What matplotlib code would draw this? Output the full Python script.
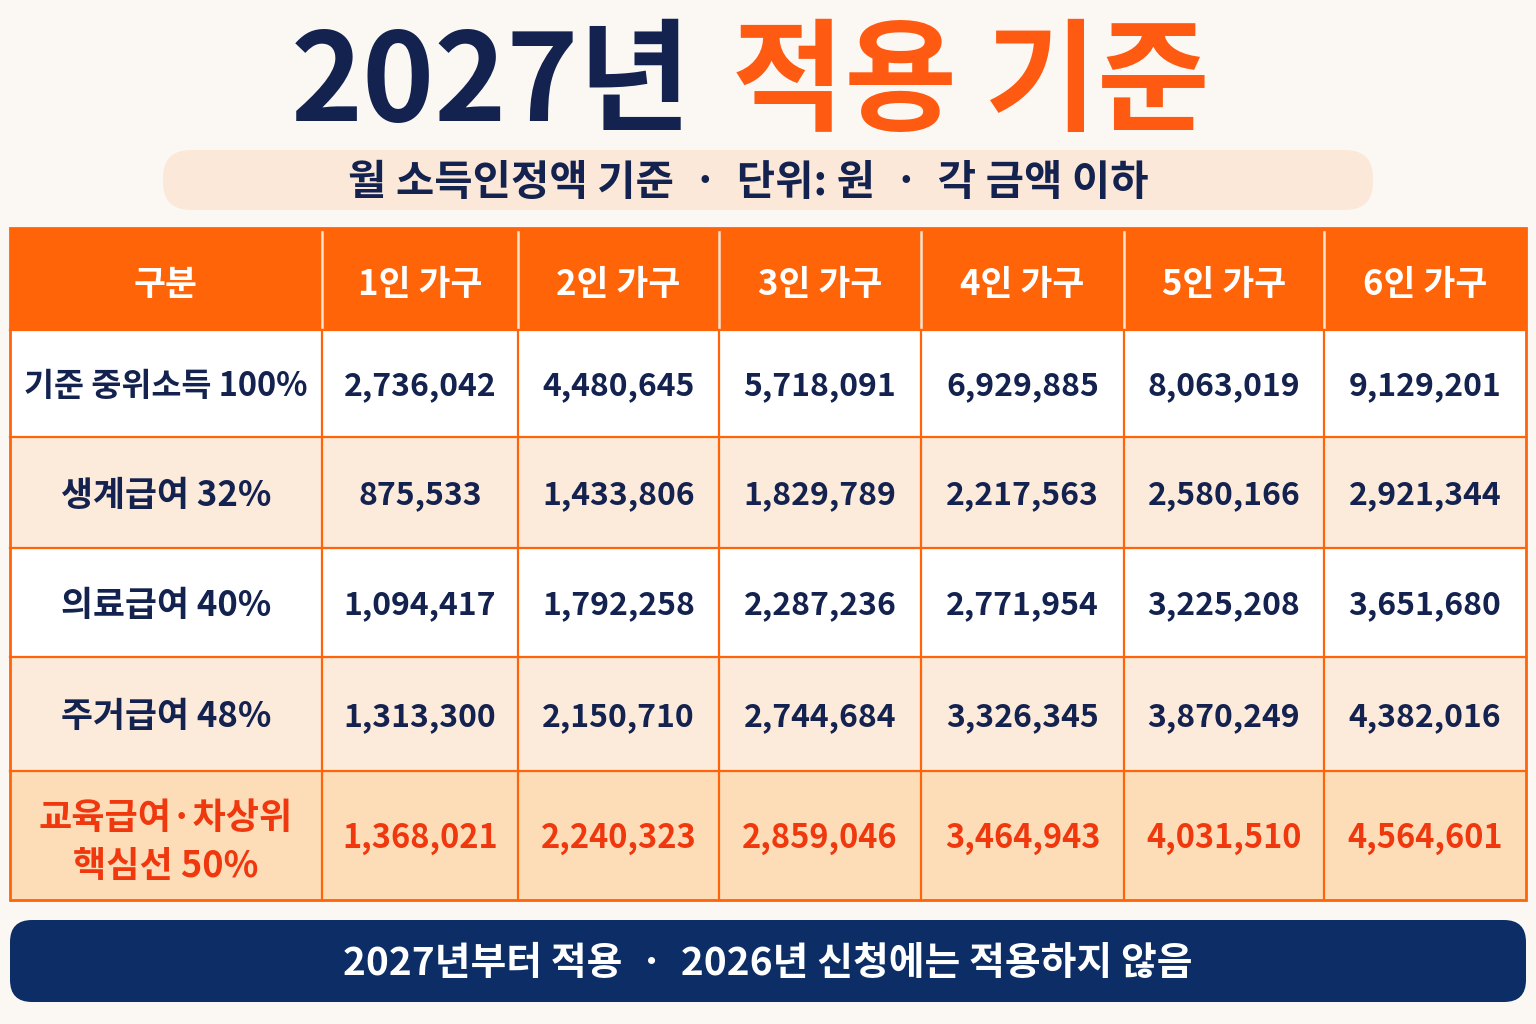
import matplotlib
matplotlib.use("Agg")
import matplotlib.pyplot as plt
from matplotlib.patches import Rectangle, FancyBboxPatch

plt.rcParams['font.family'] = ['Noto Sans CJK KR', 'DejaVu Sans']

# ---- data ----
title_year = "2027년"
title_rest = "적용 기준"
subtitle = "월 소득인정액 기준  ·  단위: 원  ·  각 금액 이하"
corner_label = "구분"
households = ["1인 가구", "2인 가구", "3인 가구", "4인 가구", "5인 가구", "6인 가구"]
row_labels = ["기준 중위소득 100%", "생계급여 32%", "의료급여 40%", "주거급여 48%", "교육급여·차상위\n핵심선 50%"]
median_100 = [2736042, 4480645, 5718091, 6929885, 8063019, 9129201]
living_32 = [875533, 1433806, 1829789, 2217563, 2580166, 2921344]
medical_40 = [1094417, 1792258, 2287236, 2771954, 3225208, 3651680]
housing_48 = [1313300, 2150710, 2744684, 3326345, 3870249, 4382016]
education_50 = [1368021, 2240323, 2859046, 3464943, 4031510, 4564601]
footer = "2027년부터 적용  ·  2026년 신청에는 적용하지 않음"

rows = [median_100, living_32, medical_40, housing_48, education_50]

# ---- style ----
BG = "#FBF8F3"
NAVY = "#13224F"
ORANGE = "#FF6408"
TITLE_ORANGE = "#FF5A12"
RED = "#F0380E"
PEACH = "#FCEADB"
PEACH_LAST = "#FDDDB8"
PILL = "#FBE8D8"
FOOTER_BG = "#0C2D66"
row_bg = ["white", PEACH, "white", PEACH, PEACH_LAST]
label_sizes = [23.5, 25, 25, 25, 26]

fig = plt.figure(figsize=(15.36, 10.24), dpi=100, facecolor=BG)
ax = fig.add_axes([0, 0, 1, 1])
ax.set_xlim(0, 1536)
ax.set_ylim(1024, 0)
ax.axis('off')
ax.set_facecolor(BG)

# title
t1 = ax.text(0, 0, title_year, fontsize=88, fontweight='black', color=NAVY,
             ha='left', va='center')
t2 = ax.text(0, 0, title_rest, fontsize=88, fontweight='black', color=TITLE_ORANGE,
             ha='left', va='center')
fig.canvas.draw()
r = fig.canvas.get_renderer()
w1 = t1.get_window_extent(r).width
w2 = t2.get_window_extent(r).width
gap = 40
total = w1 + gap + w2
x0 = 750 - total / 2
t1.set_position((x0, 86))
t2.set_position((x0 + w1 + gap, 86))

# subtitle pill
ax.add_patch(FancyBboxPatch((163, 150), 1210, 60,
                            boxstyle="round,pad=0,rounding_size=28",
                            facecolor=PILL, edgecolor='none'))
ax.text(748, 183, subtitle, fontsize=30, fontweight='bold', color=NAVY,
        ha='center', va='center')

# table geometry
col_edges = [10, 322, 518, 719, 921, 1124, 1324, 1526]
row_edges = [228, 330, 437, 548, 657, 771, 900]

# header
ax.add_patch(Rectangle((col_edges[0], row_edges[0]), col_edges[-1] - col_edges[0],
                       row_edges[1] - row_edges[0], facecolor=ORANGE, edgecolor='none'))
headers = [corner_label] + households
for j, h in enumerate(headers):
    cx = (col_edges[j] + col_edges[j + 1]) / 2
    ax.text(cx, (row_edges[0] + row_edges[1]) / 2 + 6, h, fontsize=25,
            fontweight='bold', color='white', ha='center', va='center')
for xe in col_edges[1:-1]:
    ax.plot([xe, xe], [row_edges[0] + 4, row_edges[1] - 2], color='#FFE3CC', lw=1.8)

# body
for i, (lab, vals) in enumerate(zip(row_labels, rows)):
    y0, y1 = row_edges[i + 1], row_edges[i + 2]
    ax.add_patch(Rectangle((col_edges[0], y0), col_edges[-1] - col_edges[0], y1 - y0,
                           facecolor=row_bg[i], edgecolor='none'))
    last = i == len(rows) - 1
    col = RED if last else NAVY
    cy = (y0 + y1) / 2 + 3
    ax.text((col_edges[0] + col_edges[1]) / 2, cy + (4 if last else 0), lab,
            fontsize=label_sizes[i],
            fontweight='bold', color=col, ha='center', va='center', linespacing=1.35)
    for j, v in enumerate(vals):
        cx = (col_edges[j + 1] + col_edges[j + 2]) / 2
        ax.text(cx, cy, f"{v:,}", fontsize=23.5 if last else 23, fontweight='bold',
                color=col, ha='center', va='center')

# grid lines
for ye in row_edges[1:-1]:
    ax.plot([col_edges[0], col_edges[-1]], [ye, ye], color=ORANGE, lw=1.6)
for xe in col_edges[1:-1]:
    ax.plot([xe, xe], [row_edges[1], row_edges[-1]], color=ORANGE, lw=1.6)
ax.add_patch(Rectangle((col_edges[0], row_edges[0]), col_edges[-1] - col_edges[0],
                       row_edges[-1] - row_edges[0], facecolor='none',
                       edgecolor=ORANGE, lw=2))

# footer
ax.add_patch(FancyBboxPatch((10, 920), 1516, 82,
                            boxstyle="round,pad=0,rounding_size=22",
                            facecolor=FOOTER_BG, edgecolor='none'))
ax.text(768, 964, footer, fontsize=28, fontweight='bold', color='white',
        ha='center', va='center')

fig.savefig("out.png", dpi=100, facecolor=BG)
